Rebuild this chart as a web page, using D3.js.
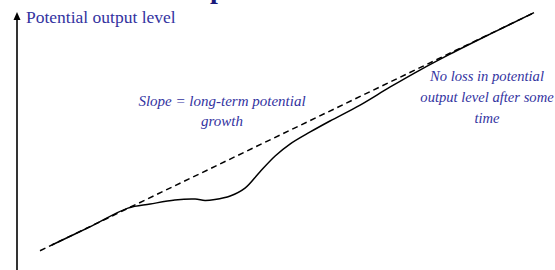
<!DOCTYPE html>
<html>
<head>
<meta charset="utf-8">
<script src="https://cdn.jsdelivr.net/npm/d3@7"></script>
<style>
  body { margin: 0; background: #fff; }
  svg { display: block; }
</style>
</head>
<body>
<script>
var width = 555, height = 270

// time (0-100) vs potential output index (0-100)
var trendTime = [0, 100]
var trendLevel = [0, 100]
var pathTime = [2.4, 10.1, 17.8, 22.3, 27.3, 31.4, 33.4, 35.4, 38.5, 41.5, 44.5, 47.6, 50.6, 54.7, 58.7, 64.8, 70.9, 76.9, 83.0, 91.1, 100]
var pathLevel = [2.4, 10.0, 17.9, 19.6, 21.3, 21.7, 21.1, 21.5, 23.0, 26.3, 33.1, 39.8, 44.8, 49.9, 54.5, 61.2, 68.8, 75.9, 82.6, 91.0, 100]
var axisLabel = "Potential output level"
var slopeNote = ["Slope = long-term potential", "growth"]
var lossNote = ["No loss in potential", "output level after some", "time"]

var serif = "Liberation Serif"
var blue = "#33339f"

var svg = d3.select("body").append("svg")
    .attr("width", width)
    .attr("height", height)

var x = d3.scaleLinear().domain([0, 100]).range([40, 534])
var y = d3.scaleLinear().domain([0, 100]).range([250.7, 12.7])

// cut-off title at the very top
svg.append("text")
    .attr("x", 210)
    .attr("y", -2)
    .attr("font-family", serif)
    .attr("font-weight", "bold")
    .attr("font-size", 28)
    .attr("fill", "#1a1a7a")
    .text("p")

// vertical axis with arrow
svg.append("line")
    .attr("x1", 17).attr("x2", 17)
    .attr("y1", height).attr("y2", 19)
    .attr("stroke", "#000")
    .attr("stroke-width", 1.6)
svg.append("path")
    .attr("d", "M17,12 L13.5,20 L20.5,20 Z")
    .attr("fill", "#000")

svg.append("text")
    .attr("x", 26)
    .attr("y", 23)
    .attr("font-family", serif)
    .attr("font-size", 17.5)
    .attr("fill", blue)
    .text(axisLabel)

var line = d3.line()
    .x(function(d) { return x(d[0]) })
    .y(function(d) { return y(d[1]) })

svg.append("path")
    .datum(d3.zip(trendTime, trendLevel))
    .attr("d", line)
    .attr("fill", "none")
    .attr("stroke", "#000")
    .attr("stroke-width", 1.5)
    .attr("stroke-dasharray", "6,4")

svg.append("path")
    .datum(d3.zip(pathTime, pathLevel))
    .attr("d", line.curve(d3.curveCatmullRom.alpha(0.5)))
    .attr("fill", "none")
    .attr("stroke", "#000")
    .attr("stroke-width", 1.5)

function note(lines, cx, y0, dy, size) {
  svg.append("text")
      .attr("font-family", serif)
      .attr("font-style", "italic")
      .attr("font-size", size)
      .attr("fill", blue)
      .attr("text-anchor", "middle")
    .selectAll("tspan")
    .data(lines)
    .enter().append("tspan")
      .attr("x", cx)
      .attr("y", function(d, i) { return y0 + i * dy })
      .text(function(d) { return d })
}

note(slopeNote, 222, 106, 20, 15)
note(lossNote, 487, 81, 21, 14.6)
</script>
</body>
</html>
